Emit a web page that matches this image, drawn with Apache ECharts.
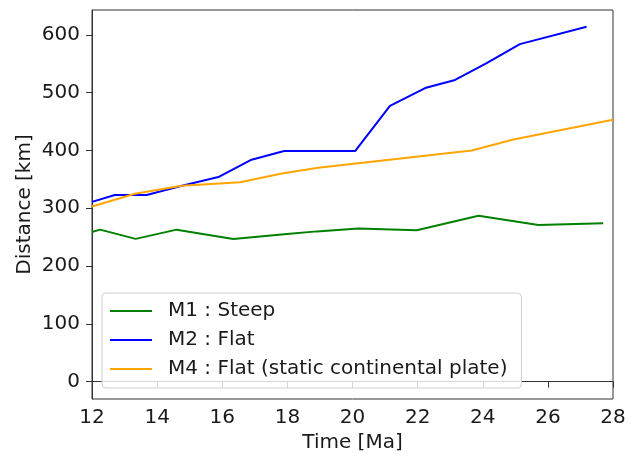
<!DOCTYPE html>
<html><head><meta charset="utf-8">
<script src="https://cdn.jsdelivr.net/npm/echarts@6/dist/echarts.min.js"></script>
<style>html,body{margin:0;padding:0;background:#fff}#c{width:637px;height:454px}</style>
</head><body><div id="c"></div>
<script>
const seriesNames = ['M1 : Steep', 'M2 : Flat', 'M4 : Flat (static continental plate)'];
const m1Time = [12.0, 12.25, 13.34, 14.6, 16.34, 17.9, 18.9, 20.18, 21.97, 23.87, 25.71, 27.7];
const m1Dist = [259, 263, 247, 263, 247, 255, 260, 265, 262, 287, 271, 274];
const m2Time = [12.0, 12.7, 13.68, 14.7, 15.88, 16.9, 17.9, 20.08, 21.15, 22.23, 23.15, 24.12, 25.14, 27.19];
const m2Dist = [311, 323, 323, 338, 354, 384, 399, 399, 477, 508, 522, 551, 584, 614];
const m4Time = [12.0, 13.32, 14.75, 16.55, 17.83, 18.95, 20.38, 23.66, 24.94, 28.0];
const m4Dist = [303, 325, 339, 345, 360, 370, 379, 400, 419, 453];
const xTicks = [12, 14, 16, 18, 20, 22, 24, 26, 28];
const yTicks = [0, 100, 200, 300, 400, 500, 600];
const colors = ['#008000', '#0000ff', '#ffa500'];

const zip = (a, b) => a.map((v, i) => [v, b[i]]);
const font = 'DejaVu Sans';
const fs = 20;
const chart = echarts.init(document.getElementById('c'), null, {renderer: 'canvas'});
chart.setOption({
  animation: false,
  textStyle: {fontFamily: font},
  grid: {left: 92, right: 24, top: 10, bottom: 55, show: true, borderColor: '#333', borderWidth: 1, outerBoundsMode: 'none'},
  legend: {
    orient: 'vertical', left: 102, top: 293,
    data: seriesNames,
    icon: 'rect', itemWidth: 42, itemHeight: 2, itemGap: 9,
    textStyle: {fontFamily: font, fontSize: fs, color: '#1a1a1a', padding: [0, 0, 0, 11]},
    borderColor: '#d0d0d0', borderWidth: 1, borderRadius: 4,
    backgroundColor: 'rgba(255,255,255,0.8)', padding: [8, 14, 9, 8]
  },
  xAxis: {
    type: 'value', min: 12, max: 28, interval: 2,
    name: 'Time [Ma]', nameLocation: 'middle', nameGap: 31,
    nameTextStyle: {fontFamily: font, fontSize: fs, color: '#1a1a1a'},
    axisLine: {show: true, lineStyle: {color: '#333'}},
    axisTick: {show: true, length: 6, lineStyle: {color: '#333'}},
    axisLabel: {fontFamily: font, fontSize: fs, color: '#1a1a1a', margin: 9,
      customValues: xTicks, formatter: v => String(v)},
    splitLine: {show: false}
  },
  yAxis: {
    type: 'value', min: -30, max: 643,
    name: 'Distance [km]', nameLocation: 'middle', nameGap: 57, nameMoveOverlap: false,
    nameTextStyle: {fontFamily: font, fontSize: fs, color: '#1a1a1a'},
    axisLine: {show: true, lineStyle: {color: '#333'}},
    axisTick: {show: true, length: 6, lineStyle: {color: '#333'}, customValues: yTicks},
    axisLabel: {fontFamily: font, fontSize: fs, color: '#1a1a1a', margin: 12,
      customValues: yTicks, formatter: v => String(v)},
    splitLine: {show: false}
  },
  series: [
    {name: seriesNames[0], type: 'line', data: zip(m1Time, m1Dist), showSymbol: false, symbol: 'none', lineStyle: {width: 2, color: colors[0]}, itemStyle: {color: colors[0]}},
    {name: seriesNames[1], type: 'line', data: zip(m2Time, m2Dist), showSymbol: false, symbol: 'none', lineStyle: {width: 2, color: colors[1]}, itemStyle: {color: colors[1]}},
    {name: seriesNames[2], type: 'line', data: zip(m4Time, m4Dist), showSymbol: false, symbol: 'none', lineStyle: {width: 2, color: colors[2]}, itemStyle: {color: colors[2]}}
  ]
});
</script></body></html>
